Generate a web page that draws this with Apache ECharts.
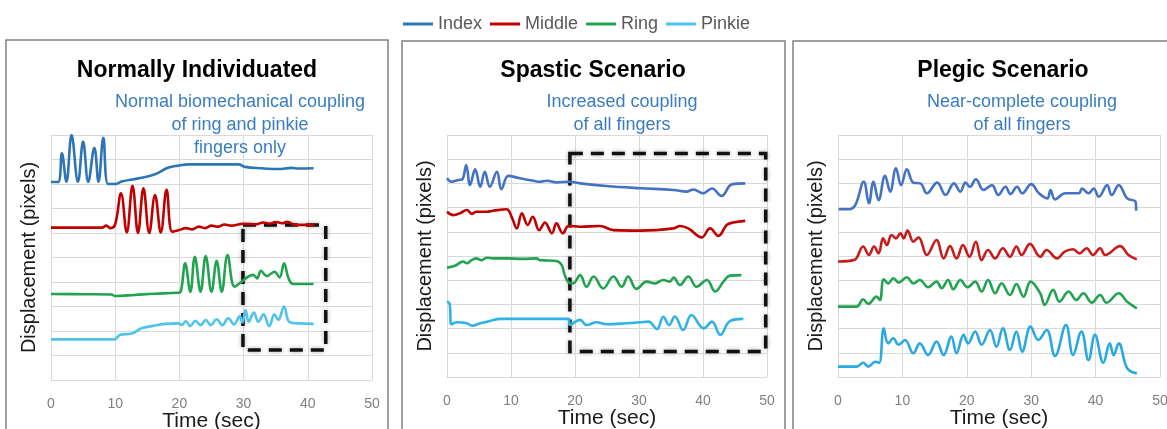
<!DOCTYPE html>
<html>
<head>
<meta charset="utf-8">
<script src="https://cdn.jsdelivr.net/npm/echarts@6/dist/echarts.min.js"></script>
<style>html,body{margin:0;padding:0;background:#fff}#main{width:1167px;height:429px}</style>
</head>
<body>
<div id="main"></div>
<script>
var myChart = echarts.init(document.getElementById('main'));
var FONT = "'Liberation Sans', Arial, sans-serif";

// finger names (legend)
var fingers = ['Index', 'Middle', 'Ring', 'Pinkie'];
var xTicks = [0, 10, 20, 30, 40, 50];

// Normally Individuated : [time sec, displacement]
var normIndex = [[0,8.08],[1.1,8.08],[1.7,9.25],[2.4,8.09],[3.2,10.0],[4.2,8.09],[5.0,9.73],[5.8,8.09],[6.75,9.48],[7.4,8.09],[8.15,9.89],[8.9,8.0],[10,8.0],[11,8.1],[13.6,8.23],[16.2,8.4],[18.3,8.67],[19.8,8.75],[21.4,8.8],[29.2,8.8],[30.2,8.7],[32.8,8.64],[35.4,8.61],[37.5,8.66],[38.5,8.63],[40.9,8.64]];
var normMiddle = [[0,6.22],[8,6.22],[8.6,6.3],[9.3,6.2],[10.0,6.35],[10.9,7.62],[11.8,6.02],[12.7,7.93],[13.55,6.0],[14.4,7.82],[15.3,6.0],[16.2,7.55],[17.1,6.02],[18.0,7.76],[18.9,6.05],[20,6.12],[21,6.2],[22,6.15],[23,6.26],[24,6.2],[25,6.3],[26,6.26],[27,6.35],[28,6.3],[30,6.38],[32,6.36],[33,6.43],[34,6.38],[35,6.45],[36,6.4],[36.8,6.46],[38,6.33],[41,6.33]];
var normRing = [[0,3.51],[5,3.5],[9.4,3.49],[10,3.43],[13,3.47],[16,3.52],[19.7,3.56],[20.2,3.6],[20.9,4.76],[21.7,3.6],[22.4,5.03],[23.3,3.6],[24.1,5.06],[25.0,3.6],[25.8,4.87],[26.6,3.6],[27.5,5.1],[28.6,3.81],[29.7,4.01],[30.7,4.22],[31.5,4.29],[32.1,4.15],[32.7,4.46],[33.6,4.24],[34.8,4.42],[35.6,4.19],[36.3,4.76],[37.0,4.15],[37.7,3.92],[40.9,3.92]];
var normPinkie = [[0,1.66],[9.9,1.66],[10.7,1.84],[12.6,1.9],[14.1,2.11],[15.7,2.2],[17.8,2.29],[19.8,2.31],[20.4,2.25],[21.0,2.4],[21.7,2.2],[22.5,2.42],[23.3,2.24],[24.1,2.45],[24.9,2.24],[25.8,2.48],[26.7,2.24],[27.6,2.52],[28.5,2.27],[29.4,2.6],[29.8,2.35],[30.3,2.86],[30.8,2.38],[31.6,2.75],[32.3,2.38],[33.1,2.68],[34.0,2.2],[34.8,2.68],[35.4,2.45],[36.3,3.0],[37.1,2.38],[38.5,2.31],[40.9,2.29]];

// Spastic Scenario
var spIndex = [[0,8.21],[0.7,8.07],[1.8,8.14],[2.4,8.17],[3.0,8.76],[3.6,7.93],[4.4,8.58],[5.2,7.86],[5.9,8.48],[6.7,7.86],[7.8,8.48],[8.5,7.76],[9.6,8.31],[11.4,8.21],[13.5,8.11],[14.5,8.07],[15.6,8.11],[17.1,8.04],[19.2,8.07],[20.8,8.0],[24.9,7.89],[30.2,7.8],[35.4,7.73],[37.4,7.66],[38.5,7.75],[40.0,7.59],[41.4,7.79],[42.9,7.48],[44.5,7.96],[46.6,8.0]];
var spMiddle = [[0,6.83],[1.0,6.69],[2.0,6.76],[3.1,6.9],[3.9,6.74],[4.6,6.83],[6.2,6.83],[7.2,6.87],[9.3,6.93],[10.1,6.62],[10.9,6.14],[11.7,6.76],[12.6,6.28],[13.4,6.62],[14.4,6.07],[15.3,6.38],[16.4,5.94],[17.1,6.35],[18.1,5.94],[19.0,6.24],[20.8,6.21],[23.9,6.24],[26.0,6.07],[30.2,6.05],[35.4,6.14],[36.4,6.24],[37.7,6.14],[39.8,5.77],[41.1,6.14],[42.4,5.83],[43.7,6.28],[44.7,6.38],[46.6,6.45]];
var spRing = [[0,4.52],[1.25,4.6],[2.55,4.77],[3.1,4.7],[3.85,4.83],[4.6,4.9],[5.4,4.83],[6.2,4.93],[7.2,4.9],[9.3,4.9],[11.9,4.88],[14,4.9],[14.5,4.83],[17.1,4.79],[17.9,4.63],[18.4,4.21],[19.0,3.91],[19.7,3.87],[20.8,4.21],[21.8,3.73],[22.9,4.15],[24.4,3.66],[26.0,4.15],[27.3,3.73],[28.3,4.15],[29.6,3.64],[31.2,3.94],[32.5,3.87],[33.8,4.01],[34.8,3.94],[35.4,4.11],[36.4,3.8],[37.7,4.15],[39.0,3.73],[40.6,4.01],[41.9,3.53],[43.2,3.94],[44.2,4.19],[46.0,4.21]];
var spPinkie = [[0,3.11],[0.4,3.04],[0.7,2.18],[1.5,2.26],[3.1,2.22],[3.9,2.12],[5.2,2.22],[6.7,2.31],[8.3,2.4],[11.9,2.4],[19.0,2.4],[19.2,2.15],[20.8,2.36],[21.8,2.15],[23.4,2.26],[24.9,2.18],[28.1,2.22],[30.2,2.26],[31.5,2.29],[32.8,1.98],[33.8,2.49],[34.7,2.15],[35.6,2.5],[36.9,1.94],[38.2,2.56],[40.1,2.01],[41.4,2.29],[42.7,1.74],[44.2,2.31],[46.3,2.4]];

// Plegic Scenario
var plIndex = [[0.1,6.93],[1.7,6.93],[2.7,7.11],[4.0,8.07],[4.8,7.18],[5.5,8.07],[6.3,7.31],[7.3,8.31],[8.1,7.66],[9.0,8.62],[9.8,7.93],[10.7,8.58],[11.7,8.03],[12.8,8.0],[13.8,7.59],[15.4,8.03],[16.7,7.52],[18.0,8.0],[19.0,7.66],[19.8,8.03],[20.5,7.86],[21.4,8.17],[22.6,7.73],[23.9,7.93],[24.9,7.52],[26.0,7.86],[26.8,7.56],[27.8,7.86],[28.6,7.59],[30.0,7.97],[31.2,7.59],[32.5,7.38],[33.0,7.73],[33.7,7.34],[35.3,7.59],[37.4,7.59],[37.9,7.79],[38.9,7.59],[39.7,7.79],[40.5,7.45],[41.8,7.93],[42.5,7.52],[43.6,7.93],[44.9,7.38],[46.2,7.24],[46.3,6.87]];
var plMiddle = [[0,4.77],[2.5,4.83],[3.9,5.39],[4.8,5.04],[5.6,5.39],[6.3,5.11],[7.0,5.73],[7.6,5.45],[8.3,5.87],[9.0,5.73],[9.7,5.94],[10.2,5.73],[10.8,6.05],[11.7,5.59],[12.5,5.77],[13.8,5.04],[15.3,5.66],[16.4,4.9],[17.4,5.41],[18.4,4.9],[19.4,5.45],[20.4,4.97],[21.4,5.59],[22.3,4.83],[23.3,5.25],[24.4,4.9],[25.6,5.32],[26.7,4.97],[27.7,5.39],[28.5,5.04],[29.8,5.5],[31.4,4.97],[32.4,5.25],[34.0,4.9],[35.2,5.18],[36.5,5.28],[37.5,5.11],[38.6,5.32],[39.6,5.04],[40.7,5.32],[41.5,5.04],[43.8,5.41],[45.1,5.04],[46.4,4.86]];
var plRing = [[0,2.91],[2.9,2.91],[3.9,3.21],[4.7,3.02],[6.0,3.32],[6.5,3.18],[7.1,4.04],[7.8,3.87],[8.6,4.08],[9.4,3.9],[10.7,4.12],[11.7,3.87],[12.7,4.01],[14.0,3.71],[15.3,3.94],[16.1,3.67],[17.1,4.01],[17.9,3.63],[19.0,4.01],[20.1,3.71],[21.3,3.94],[22.3,3.53],[23.3,4.01],[24.4,3.46],[25.4,3.87],[26.7,3.39],[27.7,3.84],[28.8,3.32],[29.9,3.94],[31.4,3.46],[32.1,2.98],[33.4,3.6],[34.4,3.11],[35.8,3.53],[37.0,3.18],[38.1,3.46],[39.4,3.07],[40.7,3.39],[41.7,3.07],[43.6,3.46],[44.9,3.11],[46.4,2.84]];
var plPinkie = [[0,0.43],[2.9,0.43],[3.9,0.59],[4.7,0.43],[5.8,0.63],[6.4,0.59],[7.1,2.01],[7.8,1.39],[8.6,1.6],[9.4,1.33],[10.4,1.53],[11.7,0.98],[12.7,1.39],[14.0,0.91],[15.3,1.46],[16.4,0.91],[17.6,1.67],[18.4,0.98],[19.5,1.74],[20.2,1.39],[21.3,1.88],[22.3,1.33],[23.6,1.94],[24.6,1.25],[25.6,2.01],[26.7,1.12],[27.7,1.88],[28.6,1.05],[29.9,2.08],[31.1,1.53],[32.4,1.94],[33.7,0.87],[35.4,2.15],[36.5,0.91],[37.8,1.88],[38.9,0.7],[39.9,1.74],[41.2,0.59],[42.2,1.39],[42.8,0.9],[43.6,1.39],[44.9,0.36],[46.4,0.15]];

// dashed highlight boxes [[t0, v0], [t1, v1]]
var normBox = [[29.9, 6.33], [42.8, 1.22]];
var spBox = [[19.2, 9.24], [49.8, 1.05]];

var panels = [
    {title: 'Normally Individuated', note: 'Normal biomechanical coupling\nof ring and pinkie\nfingers only',
     data: [normIndex, normMiddle, normRing, normPinkie], box: normBox,
     colors: ['#2e75b6', '#c00000', '#22a34f', '#4fc3ec'],
     grid: {left: 51, right: 795, top: 135, bottom: 49}, frame: [6, 40, 382], titleX: 197, noteX: 240},
    {title: 'Spastic Scenario', note: 'Increased coupling\nof all fingers',
     data: [spIndex, spMiddle, spRing, spPinkie], box: spBox,
     colors: ['#4472c4', '#c00000', '#22a34f', '#2fb3e6'],
     grid: {left: 447, right: 400, top: 135, bottom: 52}, frame: [402, 41, 383], titleX: 593, noteX: 622},
    {title: 'Plegic Scenario', note: 'Near-complete coupling\nof all fingers',
     data: [plIndex, plMiddle, plRing, plPinkie], box: null,
     colors: ['#4472c4', '#c81c1c', '#22a34f', '#2aa8e0'],
     grid: {left: 838, right: 7, top: 135, bottom: 52}, frame: [793, 41, 420], titleX: 1003, noteX: 1022}
];

var grids = [], xAxes = [], yAxes = [], series = [], graphics = [];
panels.forEach(function (p, k) {
    var g = p.grid;
    g.containLabel = false;
    g.outerBoundsMode = 'none';
    grids.push(g);
    xAxes.push({
        gridIndex: k, type: 'value', min: xTicks[0], max: xTicks[xTicks.length - 1], interval: 10,
        name: 'Time (sec)', nameLocation: 'middle', nameGap: 31, nameMoveOverlap: false,
        nameTextStyle: {fontFamily: FONT, fontSize: 21, color: '#1a1a1a'},
        axisLine: {show: true, lineStyle: {color: '#d9d9d9'}},
        axisTick: {show: false},
        axisLabel: {fontFamily: FONT, fontSize: 14, color: '#7f7f7f', margin: 17},
        splitLine: {show: true, lineStyle: {color: '#d9d9d9', width: 1}}
    });
    yAxes.push({
        gridIndex: k, type: 'value', min: 0, max: 10, interval: 1,
        name: 'Displacement (pixels)', nameLocation: 'middle', nameGap: 12, nameMoveOverlap: false,
        nameTextStyle: {fontFamily: FONT, fontSize: 20, color: '#1a1a1a'},
        axisLine: {show: false}, axisTick: {show: false}, axisLabel: {show: false},
        splitLine: {show: true, lineStyle: {color: '#d9d9d9', width: 1}}
    });
    p.data.forEach(function (d, i) {
        var s = {
            name: fingers[i], type: 'line', xAxisIndex: k, yAxisIndex: k,
            data: d, smooth: 0.4, symbol: 'none', showSymbol: false,
            lineStyle: {width: 2.6, color: p.colors[i]},
            itemStyle: {color: p.colors[i]},
            z: 3
        };
        if (i === 3 && p.box) {
            s.markArea = {
                silent: true,
                itemStyle: {color: 'rgba(0,0,0,0)', borderColor: '#111', borderWidth: 3.5,
                    borderType: [13, 8], shadowBlur: 4, shadowColor: 'rgba(0,0,0,0.35)'},
                data: [[{coord: p.box[0]}, {coord: p.box[1]}]]
            };
        }
        series.push(s);
    });
    // panel frame
    graphics.push({
        type: 'rect', shape: {x: p.frame[0], y: p.frame[1], width: p.frame[2], height: 420},
        style: {fill: null, stroke: '#808080', lineWidth: 1.5}, z: 0
    });
    graphics.push({
        type: 'text', x: p.titleX, y: 71, z: 5,
        style: {text: p.title, fontFamily: FONT, fontSize: 23, fontWeight: 'bold', fill: '#000',
            align: 'center', verticalAlign: 'middle'}
    });
    graphics.push({
        type: 'text', x: p.noteX, y: 91, z: 5,
        style: {text: p.note, fontFamily: FONT, fontSize: 18, lineHeight: 23, fill: '#3a7cc2',
            align: 'center', verticalAlign: 'top'}
    });
});

myChart.setOption({
    animation: false,
    backgroundColor: '#fff',
    textStyle: {fontFamily: FONT},
    legend: {
        data: fingers, left: 398, top: 10, icon: 'rect', itemWidth: 30, itemHeight: 3, itemGap: 8,
        textStyle: {fontFamily: FONT, fontSize: 18, color: '#595959'}
    },
    grid: grids,
    xAxis: xAxes,
    yAxis: yAxes,
    series: series,
    graphic: graphics
});
</script>
</body>
</html>
